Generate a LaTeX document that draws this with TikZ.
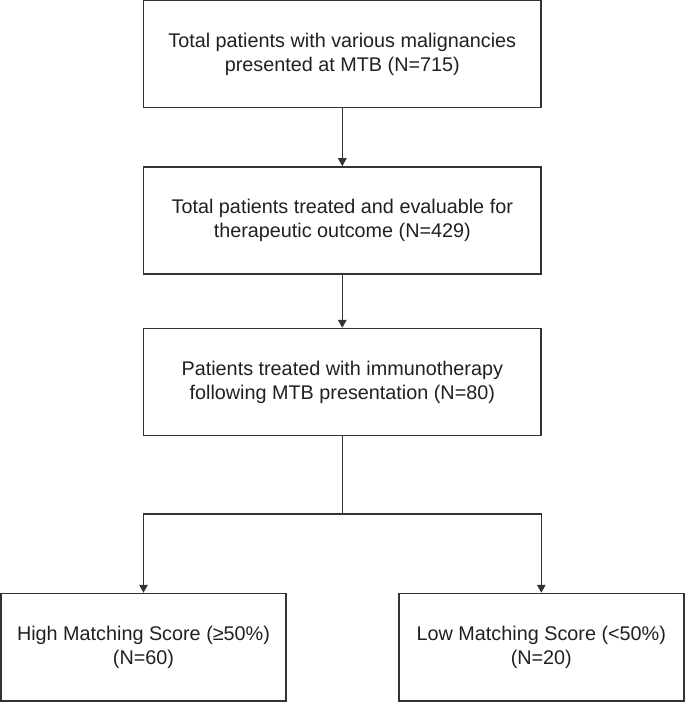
\documentclass[tikz,border=0pt]{standalone}
\usepackage{fontspec}
\setmainfont{Liberation Sans}
\usetikzlibrary{arrows.meta}
\definecolor{ink}{HTML}{231F20}
\definecolor{edge}{HTML}{333333}
\tikzset{
  flowbox/.style={draw=edge, line width=1.4pt, rectangle, align=center, inner sep=0pt,
    text=ink, font=\fontsize{19.8}{23.8}\selectfont},
  bigbox/.style={flowbox, minimum width=397.5pt, minimum height=107pt},
  leafbox/.style={flowbox, minimum width=285pt, minimum height=107.5pt},
  conn/.style={draw=edge, line width=1.4pt},
  arr/.style={conn, -{Triangle[width=8.5pt,length=8pt]}}
}
\begin{document}
\begin{tikzpicture}[x=1pt,y=-1pt]
\useasboundingbox (0,0) rectangle (685,702);
\node[bigbox] (b1) at (342.3,54.2) {Total patients with various malignancies\\presented at MTB (N=715)};
\node[bigbox] (b2) at (342.3,220.4) {Total patients treated and evaluable for\\therapeutic outcome (N=429)};
\node[bigbox] (b3) at (342.3,382) {Patients treated with immunotherapy\\following MTB presentation (N=80)};
\node[leafbox] (b4) at (143.5,647.2) {High Matching Score (≥50\%)\\(N=60)};
\node[leafbox] (b5) at (541.3,647.2) {Low Matching Score (<50\%)\\(N=20)};
\coordinate (split) at (342.3,514);
\draw[arr] (b1.south) -- (b2.north);
\draw[arr] (b2.south) -- (b3.north);
\draw[conn] (b3.south) -- (split);
\draw[arr] (split) -| (b4.north);
\draw[arr] (split) -| (b5.north);
\end{tikzpicture}
\end{document}
